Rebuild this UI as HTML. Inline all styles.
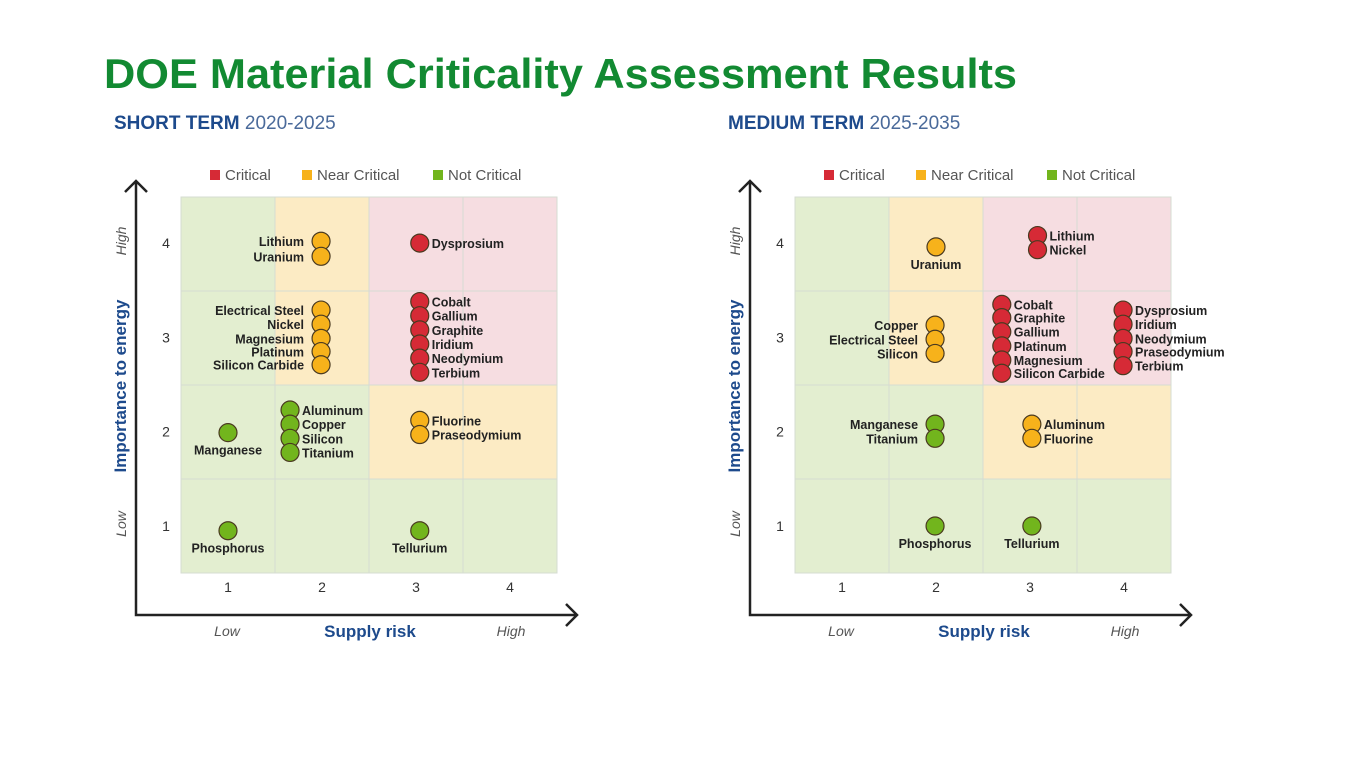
<!DOCTYPE html>
<html><head><meta charset="utf-8"><style>
html,body{margin:0;padding:0;background:#fff;}
svg{display:block;font-family:"Liberation Sans",sans-serif;}
</style></head><body>
<svg id="root" width="1350" height="759" viewBox="0 0 1350 759">
<text x="104" y="88" font-size="42" font-weight="bold" fill="#128a32" textLength="913" lengthAdjust="spacingAndGlyphs">DOE Material Criticality Assessment Results</text>
</svg>
<script>
const shortX=[1.99,1.99,3.04,1.99,1.99,1.99,1.99,1.99,3.04,3.04,3.04,3.04,3.04,3.04,1.0,1.66,1.66,1.66,1.66,3.04,3.04,1.0,3.04];
const shortY=[4.02,3.86,4.0,3.29,3.14,2.99,2.85,2.71,3.38,3.23,3.08,2.93,2.78,2.63,1.99,2.23,2.08,1.93,1.78,2.12,1.97,0.95,0.95];
const shortNames=["Lithium","Uranium","Dysprosium","Electrical Steel","Nickel","Magnesium","Platinum","Silicon Carbide","Cobalt","Gallium","Graphite","Iridium","Neodymium","Terbium","Manganese","Aluminum","Copper","Silicon","Titanium","Fluorine","Praseodymium","Phosphorus","Tellurium"];
const shortCat=["n","n","c","n","n","n","n","n","c","c","c","c","c","c","g","g","g","g","g","n","n","g","g"];
const shortSide=["l","l","r","l","l","l","l","l","r","r","r","r","r","r","b","r","r","r","r","r","r","b","b"];
const medX=[2.0,3.08,3.08,1.99,1.99,1.99,2.7,2.7,2.7,2.7,2.7,2.7,3.99,3.99,3.99,3.99,3.99,1.99,1.99,3.02,3.02,1.99,3.02];
const medY=[3.96,4.08,3.93,3.13,2.98,2.83,3.35,3.21,3.06,2.91,2.76,2.62,3.29,3.14,2.99,2.85,2.70,2.08,1.93,2.08,1.93,1.0,1.0];
const medNames=["Uranium","Lithium","Nickel","Copper","Electrical Steel","Silicon","Cobalt","Graphite","Gallium","Platinum","Magnesium","Silicon Carbide","Dysprosium","Iridium","Neodymium","Praseodymium","Terbium","Manganese","Titanium","Aluminum","Fluorine","Phosphorus","Tellurium"];
const medCat=["n","c","c","n","n","n","c","c","c","c","c","c","c","c","c","c","c","g","g","n","n","g","g"];
const medSide=["b","r","r","l","l","l","r","r","r","r","r","r","r","r","r","r","r","l","l","r","r","b","b"];
const cellCat=[["g","n","c","c"],["g","n","c","c"],["g","g","n","n"],["g","g","g","g"]]; // rows top(4) to bottom(1)
const ticks=["1","2","3","4"];
const NS="http://www.w3.org/2000/svg";
const root=document.getElementById('root');
const fills={c:"#d62a36",n:"#f7b21b",g:"#72b51d"};
const bgs={c:"#f6dde1",n:"#fcebc4",g:"#e3eed0"};
function mk(tag,attrs,parent,txt){const e=document.createElementNS(NS,tag);for(const k in attrs)e.setAttribute(k,attrs[k]);if(txt!==undefined)e.textContent=txt;(parent||root).appendChild(e);return e;}
function chart(ox,title,years,xs,ys,names,cats,sides,key){
  const g=mk('g',{});
  
  
  const gx0=ox+181,gy0=197,cw=94,ch=94;
  const X=v=>ox+228+(v-1)*94;
  const Y=v=>526-(v-1)*94.3;
  const t=mk('text',{x:ox+114,y:129,'font-size':19,fill:'#1d4a8c'},g);
  
  
  mk('tspan',{'font-weight':'bold'},t,title+' ');
  mk('tspan',{fill:'#4a6a9a'},t,years);
  // legend
  const leg=[["c","Critical",210],["n","Near Critical",302],["g","Not Critical",433]];
  leg.forEach(l=>{
    const r=mk('rect',{x:ox+l[2],y:170,width:10,height:10,fill:fills[l[0]]},g);
    
    
    const tt=mk('text',{x:ox+l[2]+15,y:180,'font-size':15,fill:'#555'},g,l[1]);
    
    
  });
  for(let r=0;r<4;r++)for(let c=0;c<4;c++){
    const e=mk('rect',{x:gx0+c*cw,y:gy0+r*ch,width:cw,height:ch,fill:bgs[cellCat[r][c]],stroke:'#d6dcd2','stroke-width':1},g);
    
    
  }
  ticks.forEach((tk,i)=>{
    const a=mk('text',{x:X(i+1),y:592,'font-size':14,fill:'#333','text-anchor':'middle'},g,tk);
    
    
    const b=mk('text',{x:ox+166,y:Y(i+1)+5,'font-size':14,fill:'#333','text-anchor':'middle'},g,tk);
    
    
  });
  const ax=mk('path',{d:`M${ox+136} 182 L${ox+136} 615 L${ox+576} 615 M${ox+125} 192 L${ox+136} 181 L${ox+147} 192 M${ox+566} 604 L${ox+577} 615 L${ox+566} 626`,stroke:'#222','stroke-width':2.5,fill:'none'},g);
  
  
  const xt=mk('text',{x:ox+370,y:637,'font-size':17,'font-weight':'bold',fill:'#1d4a8c','text-anchor':'middle'},g,'Supply risk');
  
  
  const xl=mk('text',{x:ox+227,y:636,'font-size':14,'font-style':'italic',fill:'#555','text-anchor':'middle'},g,'Low');
  
  
  const xh=mk('text',{x:ox+511,y:636,'font-size':14,'font-style':'italic',fill:'#555','text-anchor':'middle'},g,'High');
  
  
  const yt=mk('text',{x:0,y:0,'font-size':17,'font-weight':'bold',fill:'#1d4a8c','text-anchor':'middle',transform:`translate(${ox+126},386) rotate(-90)`},g,'Importance to energy');
  
  
  const yh=mk('text',{x:0,y:0,'font-size':14,'font-style':'italic',fill:'#555','text-anchor':'middle',transform:`translate(${ox+126},241) rotate(-90)`},g,'High');
  
  
  const yl=mk('text',{x:0,y:0,'font-size':14,'font-style':'italic',fill:'#555','text-anchor':'middle',transform:`translate(${ox+126},524) rotate(-90)`},g,'Low');
  
  
  for(let i=0;i<xs.length;i++){
    const cx=X(xs[i]),cy=Y(ys[i]);
    const p=mk('circle',{cx:cx,cy:cy,r:9,fill:fills[cats[i]],stroke:'#4a3a20','stroke-width':1.2},g);
    
    
    let a={'font-size':12.5,fill:'#222','font-weight':'bold'};
    if(sides[i]==='r'){a.x=cx+12;a.y=cy+5;}
    else if(sides[i]==='l'){a.x=cx-17;a.y=cy+5;a['text-anchor']='end';}
    else {a.x=cx;a.y=cy+22;a['text-anchor']='middle';}
    const lb=mk('text',a,g,names[i]);
    
    
  }
}
chart(0,'SHORT TERM','2020-2025',shortX,shortY,shortNames,shortCat,shortSide,'short-term');
chart(614,'MEDIUM TERM','2025-2035',medX,medY,medNames,medCat,medSide,'medium-term');
</script>
</body></html>
